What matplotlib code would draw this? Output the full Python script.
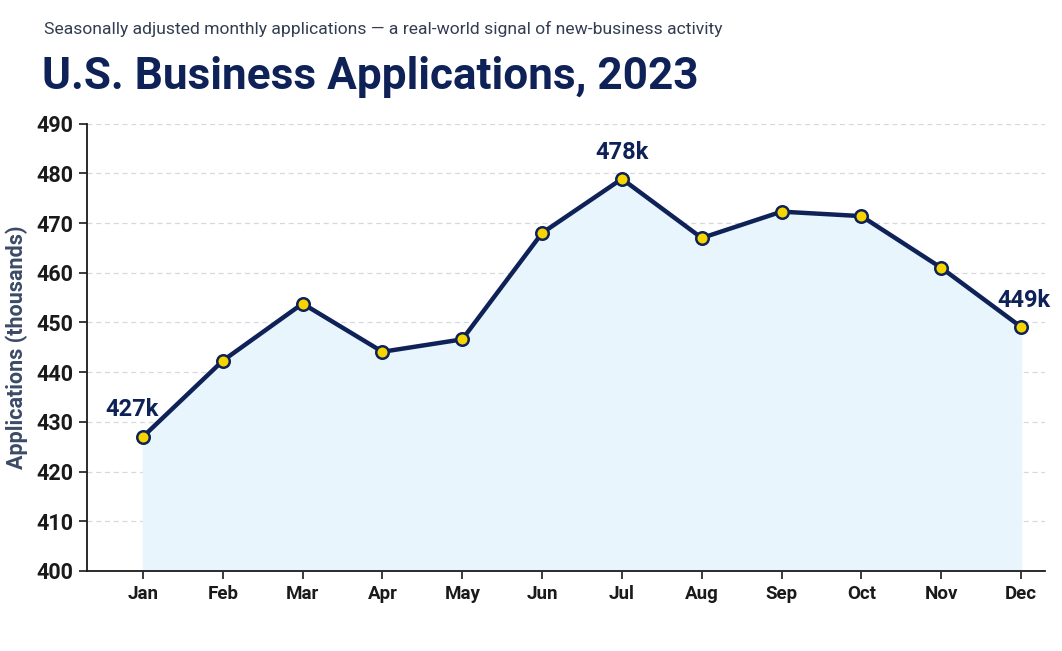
import matplotlib
matplotlib.use("Agg")
import matplotlib.pyplot as plt

months = ["Jan", "Feb", "Mar", "Apr", "May", "Jun", "Jul", "Aug", "Sep", "Oct", "Nov", "Dec"]
applications = [427.0, 442.3, 453.8, 444.1, 446.6, 468.0, 478.9, 467.0, 472.3, 471.4, 461.0, 449.1]
labeled = {0: "427k", 6: "478k", 11: "449k"}
yticks = list(range(400, 491, 10))

navy = "#0f2257"
fig = plt.figure(figsize=(10.62, 6.51), dpi=100)
ax = fig.add_axes([0.082, 0.123, 0.902, 0.687])
x = list(range(len(months)))
ax.fill_between(x, applications, 400, color="#e8f5fc", zorder=1)
ax.plot(x, applications, color=navy, lw=3.2, zorder=3,
        marker="o", markersize=9, markerfacecolor="#f7d500",
        markeredgecolor=navy, markeredgewidth=1.8)

offsets = {0: (-8, 11, "center"), 6: (0, 11, "center"), 11: (2, 11, "center")}
for i, txt in labeled.items():
    dx, dy, ha = offsets[i]
    ax.annotate(txt, (x[i], applications[i]), xytext=(dx, dy), textcoords="offset points",
                ha=ha, va="bottom", fontsize=17, fontweight="bold", color=navy,
                family="Roboto", zorder=4)

ax.set_xlim(-0.7, 11.3)
ax.set_ylim(400, 490)
ax.set_yticks(yticks)
ax.set_xticks(x)
ax.set_xticklabels(months)
for lab in ax.get_yticklabels():
    lab.set_fontsize(15.5); lab.set_fontweight("bold"); lab.set_family("Roboto"); lab.set_color("#1a1a1a")
for lab in ax.get_xticklabels():
    lab.set_fontsize(13.5); lab.set_fontweight("bold"); lab.set_family("Roboto"); lab.set_color("#1a1a1a")
ax.tick_params(axis="y", length=6, width=1.2, color="#1a1a1a", pad=4)
ax.tick_params(axis="x", length=6, width=1.2, color="#1a1a1a", pad=4)
ax.grid(axis="y", color="#d5d8de", linestyle=(0, (4, 3)), lw=0.9, zorder=0)
ax.set_axisbelow(True)
for s in ["top", "right"]:
    ax.spines[s].set_visible(False)
for s in ["left", "bottom"]:
    ax.spines[s].set_color("#1a1a1a"); ax.spines[s].set_linewidth(1.3)
ax.set_ylabel("Applications (thousands)", fontsize=15.5, fontweight="bold",
              color="#3b4a66", family="Roboto", labelpad=6)

fig.text(0.041, 0.955, "Seasonally adjusted monthly applications \u2014 a real-world signal of new-business activity",
         fontsize=12.6, color="#333d52", family="Roboto", va="center")
fig.text(0.040, 0.882, "U.S. Business Applications, 2023", fontsize=31.8, fontweight="bold",
         color=navy, family="Roboto", va="center")

fig.savefig("out.png", dpi=100)
